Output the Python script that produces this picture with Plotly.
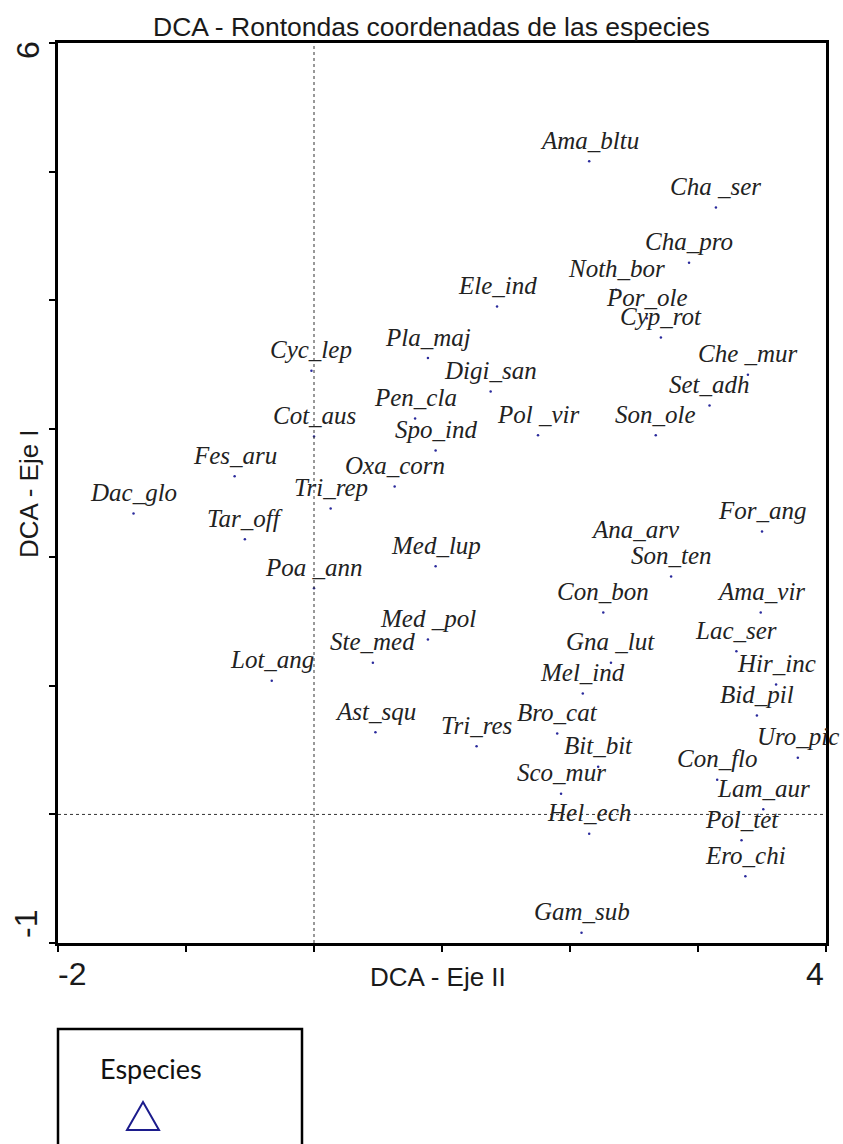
import plotly.graph_objects as go

# Species scores on the first two DCA axes
species = [
    "Ama_bltu", "Cha _ser", "Cha_pro", "Noth_bor", "Ele_ind", "Por_ole", "Cyp_rot",
    "Pla_maj", "Cyc_lep", "Che _mur", "Digi_san", "Set_adh", "Pen_cla", "Cot_aus",
    "Pol _vir", "Son_ole", "Spo_ind", "Fes_aru", "Oxa_corn", "Tri_rep", "Dac_glo",
    "Tar_off", "For_ang", "Ana_arv", "Med_lup", "Son_ten", "Poa _ann", "Con_bon",
    "Ama_vir", "Med _pol", "Lac_ser", "Ste_med", "Gna _lut", "Lot_ang", "Hir_inc",
    "Mel_ind", "Bid_pil", "Ast_squ", "Bro_cat", "Tri_res", "Uro_pic", "Bit_bit",
    "Con_flo", "Sco_mur", "Lam_aur", "Hel_ech", "Pol_tet", "Ero_chi", "Gam_sub",
]
eje_ii = [
    2.15, 3.14, 2.93, 2.36, 1.43, 2.60, 2.71,
    0.89, -0.02, 3.39, 1.38, 3.09, 0.79, 0.00,
    1.75, 2.67, 0.95, -0.62, 0.63, 0.13, -1.41,
    -0.54, 3.50, 2.51, 0.95, 2.79, 0.00, 2.26,
    3.49, 0.89, 3.30, 0.46, 2.32, -0.33, 3.61,
    2.10, 3.46, 0.48, 1.90, 1.27, 3.78, 2.22,
    3.15, 1.93, 3.51, 2.15, 3.34, 3.37, 2.09,
]
eje_i = [
    5.08, 4.72, 4.29, 4.08, 3.95, 3.86, 3.71,
    3.55, 3.45, 3.42, 3.29, 3.18, 3.08, 2.94,
    2.95, 2.95, 2.83, 2.63, 2.55, 2.38, 2.34,
    2.14, 2.20, 2.05, 1.93, 1.85, 1.76, 1.57,
    1.57, 1.36, 1.27, 1.18, 1.18, 1.04, 1.01,
    0.94, 0.77, 0.64, 0.63, 0.53, 0.44, 0.37,
    0.27, 0.16, 0.04, -0.15, -0.20, -0.48, -0.92,
]

W, H = 843, 1144
L, R, T, B = 58, 826, 43, 943  # plot-area edges in pixels


def px(x):
    return (x - L) / (R - L)


def py(y):
    return (B - y) / (B - T)


fig = go.Figure()
fig.add_trace(go.Scatter(
    x=eje_ii, y=eje_i, mode="markers",
    marker=dict(size=2.5, color="#2a2a9c", symbol="circle"),
    showlegend=False, hoverinfo="text", text=species,
))

ann = []
for name, xv, yv in zip(species, eje_ii, eje_i):
    ann.append(dict(
        x=xv, y=yv, xref="x", yref="y", yshift=21,
        text="<i>" + name + "</i>", showarrow=False,
        xanchor="center", yanchor="middle",
        font=dict(family="Liberation Serif", size=25, color="#222"),
    ))

sans = "Liberation Sans"
ann += [
    dict(x=px(431), y=py(27), xref="paper", yref="paper", showarrow=False,
         text="DCA - Rontondas coordenadas de las especies",
         font=dict(family=sans, size=26.5, color="#1a1a1a"), xanchor="center", yanchor="middle"),
    dict(x=px(438), y=py(977), xref="paper", yref="paper", showarrow=False,
         text="DCA - Eje II", font=dict(family=sans, size=26, color="#1a1a1a"),
         xanchor="center", yanchor="middle"),
    dict(x=px(29), y=py(494), xref="paper", yref="paper", showarrow=False,
         text="DCA - Eje I", textangle=-90, font=dict(family=sans, size=26, color="#1a1a1a"),
         xanchor="center", yanchor="middle"),
    dict(x=px(56), y=py(974), xref="paper", yref="paper", showarrow=False,
         text="-2", font=dict(family=sans, size=32, color="#1a1a1a"),
         xanchor="left", yanchor="middle"),
    dict(x=px(826), y=py(974), xref="paper", yref="paper", showarrow=False,
         text="4", font=dict(family=sans, size=32, color="#1a1a1a"),
         xanchor="right", yanchor="middle"),
    dict(x=px(28), y=py(50), xref="paper", yref="paper", showarrow=False,
         text="6", textangle=-90, font=dict(family=sans, size=32, color="#1a1a1a"),
         xanchor="center", yanchor="middle"),
    dict(x=px(26), y=py(924), xref="paper", yref="paper", showarrow=False,
         text="-1", textangle=-90, font=dict(family=sans, size=32, color="#1a1a1a"),
         xanchor="center", yanchor="middle"),
    dict(x=px(98), y=py(1068), xref="paper", yref="paper", showarrow=False,
         text="Especies", font=dict(family="Lato", size=27, color="#111"),
         xanchor="left", yanchor="middle"),
]

shapes = [
    # zero reference lines
    dict(type="line", xref="x", yref="y", x0=0, x1=0, y0=-1, y1=6,
         line=dict(color="#333", width=1, dash="dot")),
    dict(type="line", xref="x", yref="y", x0=-2, x1=4, y0=0, y1=0,
         line=dict(color="#333", width=1, dash="dot")),
    # legend box
    dict(type="rect", xref="paper", yref="paper",
         x0=px(58), x1=px(302), y0=py(1029), y1=py(1170),
         line=dict(color="#000", width=2.5), fillcolor="rgba(0,0,0,0)"),
    # legend triangle symbol
    dict(type="path", xref="paper", yref="paper",
         path="M {:.5f},{:.5f} L {:.5f},{:.5f} L {:.5f},{:.5f} Z".format(
             px(143), py(1102), px(159), py(1130), px(127), py(1130)),
         line=dict(color="#1c1c8c", width=2), fillcolor="rgba(0,0,0,0)"),
]

axis_common = dict(
    showgrid=False, zeroline=False, showline=True, linecolor="#000", linewidth=2.5,
    mirror=True, ticks="outside", ticklen=6, tickwidth=2, tickcolor="#000",
    showticklabels=False, dtick=1, tick0=0,
)

fig.update_layout(
    width=W, height=H,
    margin=dict(l=L, r=W - R, t=T, b=H - B),
    paper_bgcolor="white", plot_bgcolor="white",
    xaxis=dict(range=[-2, 4], **axis_common),
    yaxis=dict(range=[-1, 6], **axis_common),
    annotations=ann, shapes=shapes,
)

fig.write_html("out.html")
